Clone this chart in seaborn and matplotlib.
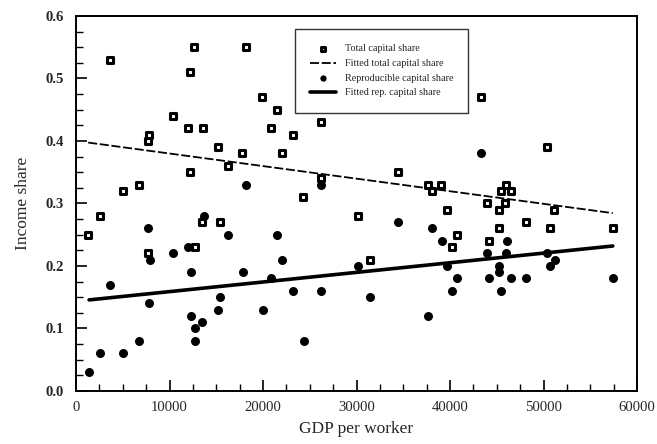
import numpy as np
import pandas as pd
import matplotlib
matplotlib.use("Agg")
import matplotlib.pyplot as plt
from matplotlib.ticker import MultipleLocator, FormatStrFormatter
import seaborn as sns

# total capital share (open squares)
gdp_total = [1300, 2600, 3600, 5000, 6700, 7700, 7800, 7700, 10400, 12000,
             12200, 12600, 12200, 12700, 13500, 13600, 15200, 15400, 16300, 17800,
             18200, 19900, 20900, 21500, 22000, 23200, 24300, 26200, 26200, 30200,
             31400, 34400, 37600, 38100, 39000, 39700, 40200, 40700, 43300, 44000,
             44200, 45200, 45200, 45400, 45900, 46000, 46500, 48100, 50400, 50700,
             51100, 57400]
share_total = [0.25, 0.28, 0.53, 0.32, 0.33, 0.40, 0.41, 0.22, 0.44, 0.42,
               0.51, 0.55, 0.35, 0.23, 0.27, 0.42, 0.39, 0.27, 0.36, 0.38,
               0.55, 0.47, 0.42, 0.45, 0.38, 0.41, 0.31, 0.43, 0.34, 0.28,
               0.21, 0.35, 0.33, 0.32, 0.33, 0.29, 0.23, 0.25, 0.47, 0.30,
               0.24, 0.29, 0.26, 0.32, 0.30, 0.33, 0.32, 0.27, 0.39, 0.26,
               0.29, 0.26]

# reproducible capital share (filled circles)
gdp_rep = [1400, 2600, 3600, 5000, 6700, 7700, 7900, 7800, 10400, 12000,
           12300, 12300, 12700, 12700, 13500, 13700, 15200, 15400, 16300, 17900,
           18200, 20000, 20900, 21500, 22000, 23200, 24400, 26200, 26200, 30200,
           31400, 34400, 37600, 38100, 39100, 39700, 40200, 40700, 43300, 44000,
           44200, 45200, 45200, 45500, 46000, 46100, 46500, 48100, 50400, 50700,
           51200, 57400]
share_rep = [0.03, 0.06, 0.17, 0.06, 0.08, 0.26, 0.21, 0.14, 0.22, 0.23,
             0.19, 0.12, 0.10, 0.08, 0.11, 0.28, 0.13, 0.15, 0.25, 0.19,
             0.33, 0.13, 0.18, 0.25, 0.21, 0.16, 0.08, 0.16, 0.33, 0.20,
             0.15, 0.27, 0.12, 0.26, 0.24, 0.20, 0.16, 0.18, 0.38, 0.22,
             0.18, 0.20, 0.19, 0.16, 0.22, 0.24, 0.18, 0.18, 0.22, 0.20,
             0.21, 0.18]

df_total = pd.DataFrame({"gdp": gdp_total, "share": share_total})
df_rep = pd.DataFrame({"gdp": gdp_rep, "share": share_rep})

sns.set_style("white")
plt.rcParams["font.family"] = ["Liberation Serif", "DejaVu Serif"]

fig = plt.figure(figsize=(6.57, 4.44), dpi=100)
ax = fig.add_axes([0.1157, 0.1194, 0.854, 0.8446])

# fitted lines (OLS through the points)
sns.regplot(data=df_total, x="gdp", y="share", ax=ax, scatter=False, ci=None,
            color="black", label="Fitted total capital share",
            line_kws={"linewidth": 1.3, "linestyle": (0, (5, 1.5))})
sns.regplot(data=df_rep, x="gdp", y="share", ax=ax, scatter=False, ci=None,
            color="black", label="Fitted rep. capital share",
            line_kws={"linewidth": 2.6})

sns.scatterplot(data=df_total, x="gdp", y="share", ax=ax, marker="s", s=20,
                facecolor="white", edgecolor="black", linewidth=2.2,
                label="Total capital share", zorder=3)
sns.scatterplot(data=df_rep, x="gdp", y="share", ax=ax, marker="o", s=42,
                color="black", edgecolor="black", linewidth=0,
                label="Reproducible capital share", zorder=3)

ax.set_xlim(0, 60000)
ax.set_ylim(0, 0.6)
ax.xaxis.set_major_locator(MultipleLocator(10000))
ax.xaxis.set_minor_locator(MultipleLocator(2500))
ax.yaxis.set_major_locator(MultipleLocator(0.1))
ax.yaxis.set_minor_locator(MultipleLocator(0.025))
ax.yaxis.set_major_formatter(FormatStrFormatter("%.1f"))
ax.tick_params(which="both", direction="in", top=False, right=False,
               bottom=True, left=True, color="black", labelsize=10.6)
ax.tick_params(axis="x", pad=7)
ax.tick_params(axis="y", pad=8.5)
ax.tick_params(which="major", length=8, width=1.2)
ax.tick_params(which="minor", length=5, width=1.0)
for lbl in ax.get_yticklabels():
    lbl.set_fontweight("bold")
for sp in ax.spines.values():
    sp.set_color("black")
    sp.set_linewidth(1.4)

ax.set_xlabel("GDP per worker", fontsize=12.5, labelpad=5)
ax.set_ylabel("Income share", fontsize=12.5, labelpad=11)

handles, labels = ax.get_legend_handles_labels()
order = ["Total capital share", "Fitted total capital share",
         "Reproducible capital share", "Fitted rep. capital share"]
hmap = dict(zip(labels, handles))
leg = ax.legend([hmap[k] for k in order], order, loc="upper left",
                bbox_to_anchor=(0.390, 0.965), fontsize=7.3, frameon=True,
                fancybox=False, edgecolor="black", handlelength=2.6,
                handletextpad=0.8, borderpad=1.5, borderaxespad=0,
                labelspacing=0.55, markerscale=0.7)
leg.get_frame().set_linewidth(1.0)

fig.savefig("out.png", dpi=100, facecolor="white")
